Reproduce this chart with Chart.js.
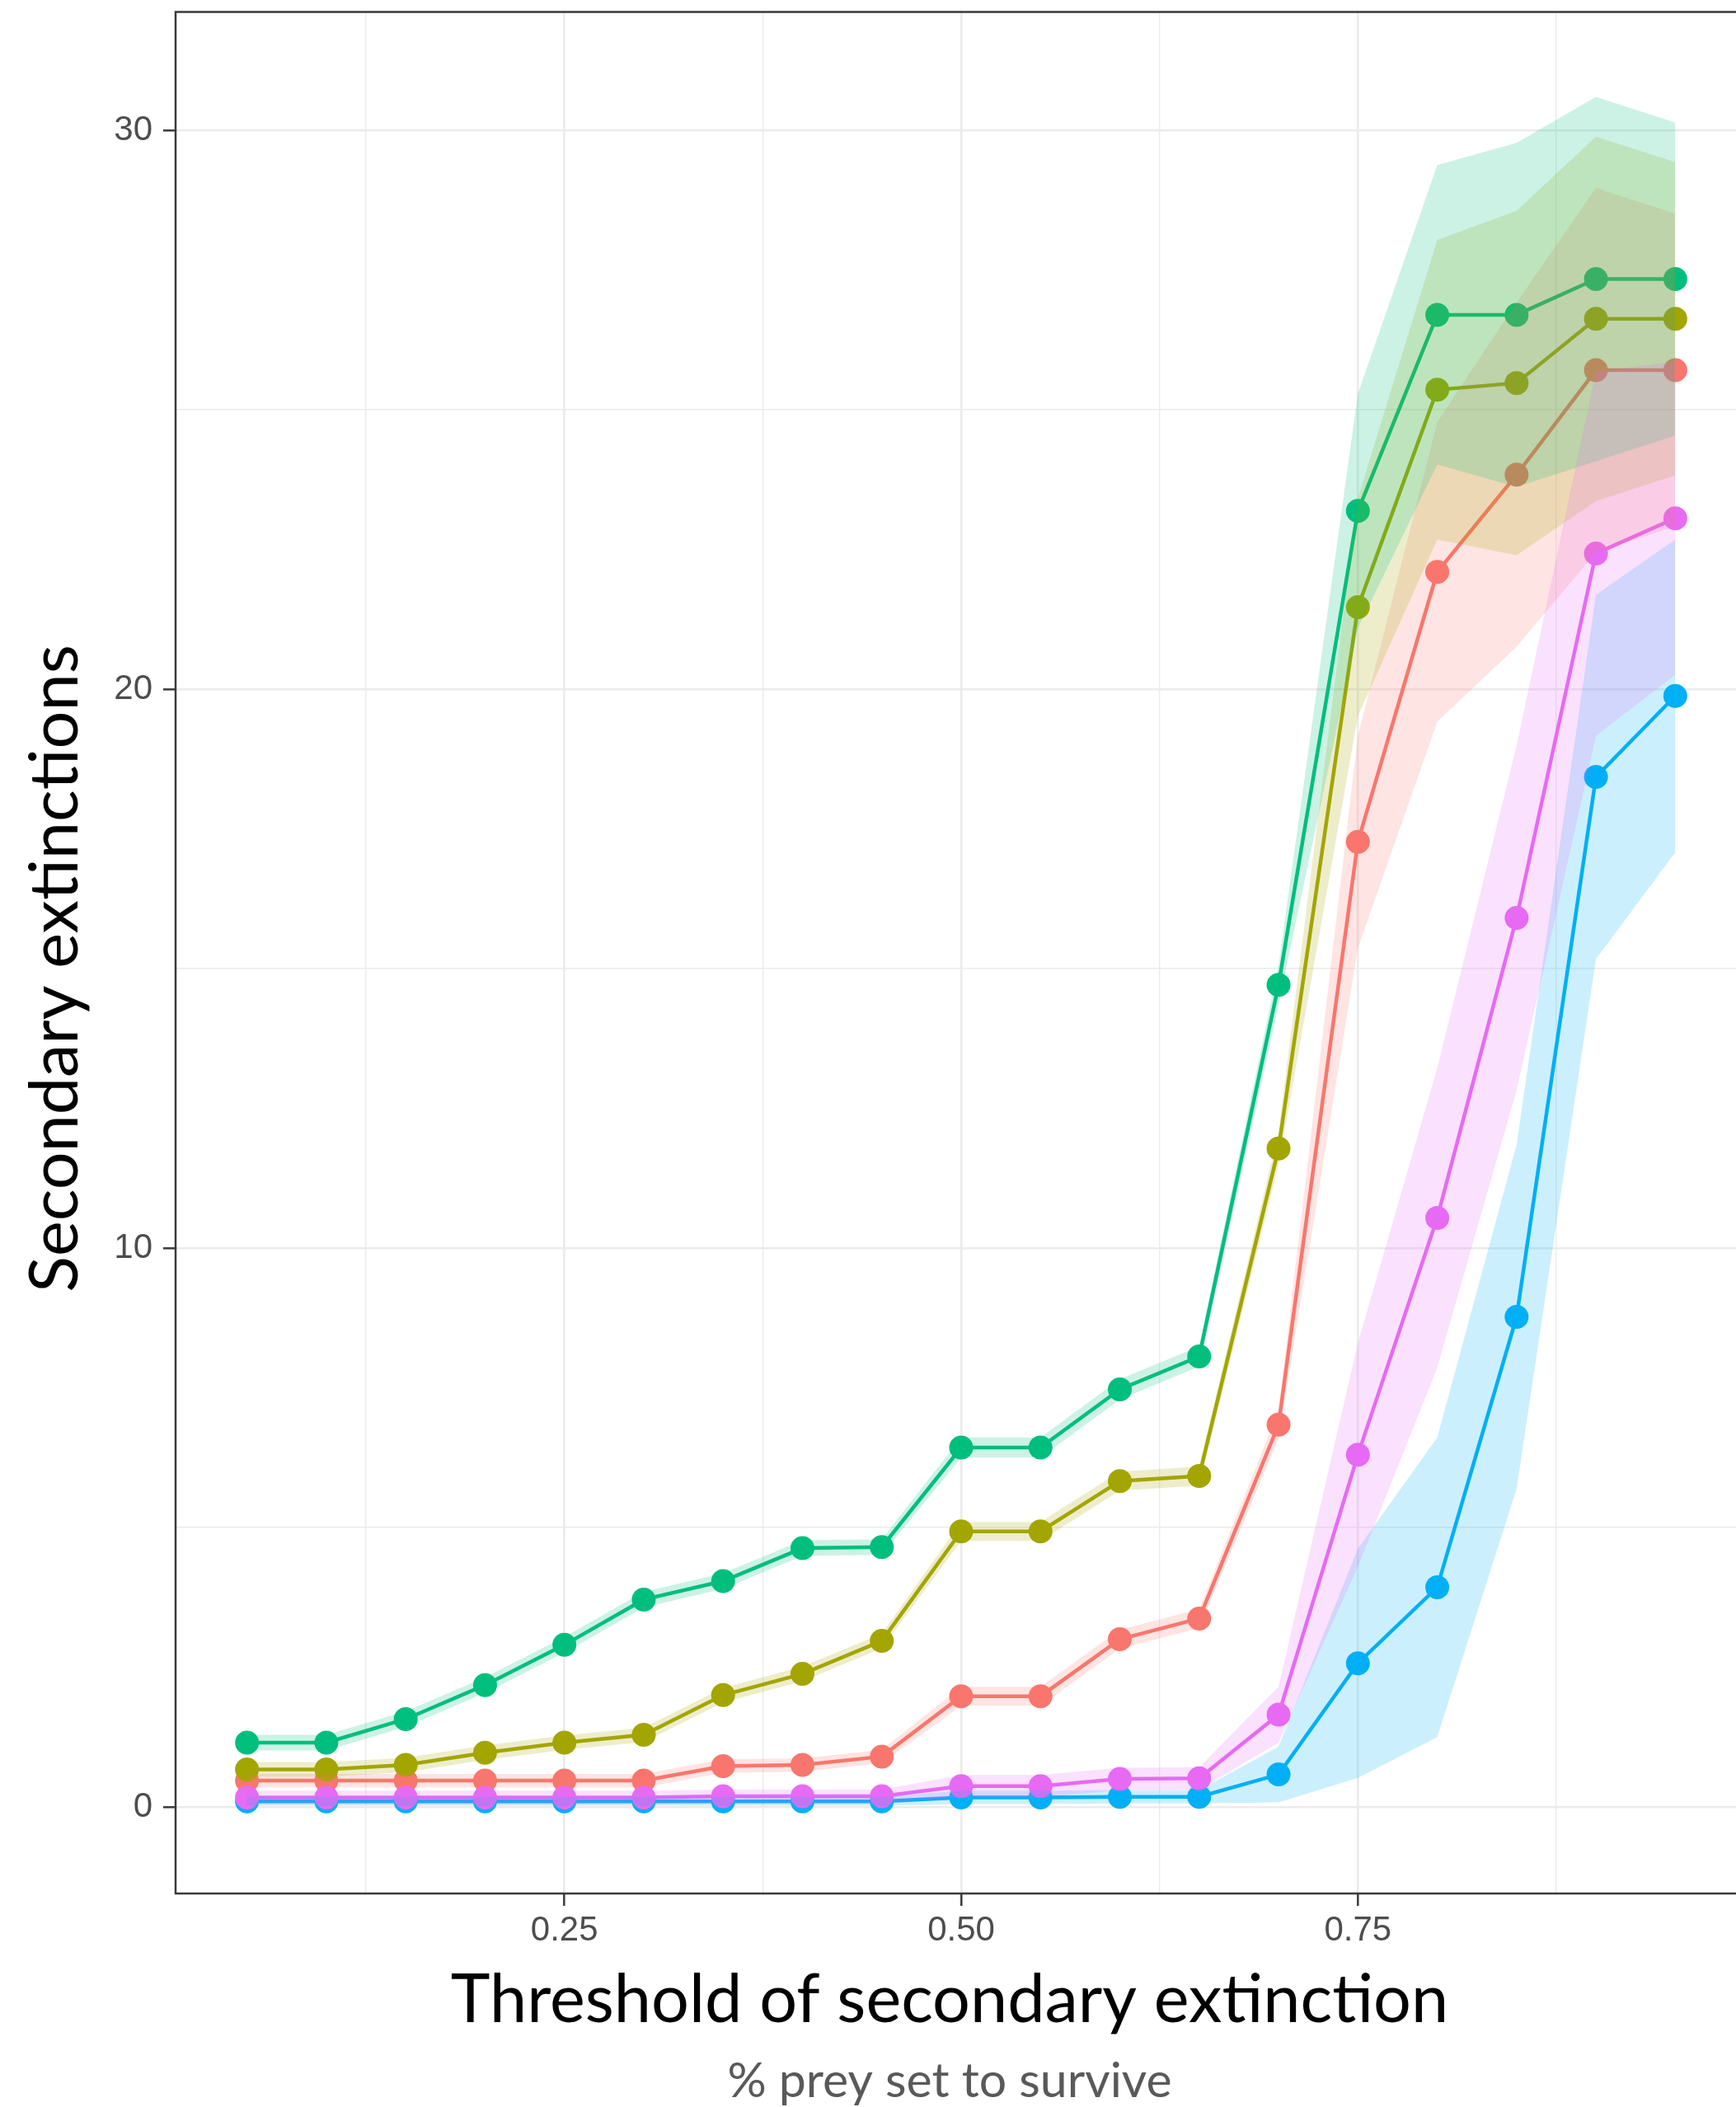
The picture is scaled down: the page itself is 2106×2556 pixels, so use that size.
<!DOCTYPE html>
<html>
<head>
<meta charset="utf-8">
<script src="https://cdn.jsdelivr.net/npm/chart.js@4.4.1/dist/chart.umd.min.js"></script>
<style>
  html, body { margin: 0; padding: 0; background: #ffffff; overflow: hidden; width: 2106px; height: 2556px; }
  canvas { display: block; }
</style>
</head>
<body>
<canvas id="chart" width="2140" height="2556"></canvas>
<script>
// Threshold of secondary extinction (x values)
const thresholds = [0.05, 0.10, 0.15, 0.20, 0.25, 0.30, 0.35, 0.40, 0.45, 0.50,
                    0.55, 0.60, 0.65, 0.70, 0.75, 0.80, 0.85, 0.90, 0.95];

// Mean secondary extinctions per group
const redMean   = [0.47, 0.47, 0.47, 0.47, 0.47, 0.47, 0.73, 0.75, 0.90, 1.98, 1.98, 3.00, 3.37, 6.84, 17.27, 22.10, 23.84, 25.71, 25.71];
const oliveMean = [0.67, 0.67, 0.75, 0.97, 1.15, 1.29, 2.00, 2.38, 2.97, 4.93, 4.93, 5.83, 5.92, 11.78, 21.47, 25.36, 25.48, 26.63, 26.63];
const greenMean = [1.15, 1.15, 1.57, 2.18, 2.90, 3.71, 4.04, 4.63, 4.65, 6.43, 6.43, 7.47, 8.06, 14.71, 23.19, 26.70, 26.70, 27.34, 27.34];
const blueMean  = [0.10, 0.10, 0.10, 0.10, 0.10, 0.10, 0.10, 0.10, 0.10, 0.17, 0.17, 0.18, 0.18, 0.58, 2.57, 3.93, 8.77, 18.43, 19.88];
const pinkMean  = [0.17, 0.17, 0.17, 0.17, 0.17, 0.17, 0.19, 0.19, 0.19, 0.37, 0.37, 0.50, 0.51, 1.65, 6.30, 10.54, 15.91, 22.43, 23.06];

// Confidence band limits per group
const redLow    = [0.35, 0.35, 0.35, 0.35, 0.35, 0.35, 0.61, 0.63, 0.78, 1.81, 1.81, 2.83, 3.20, 6.59, 15.37, 19.42, 20.76, 22.45, 22.91];
const redHigh   = [0.59, 0.59, 0.59, 0.59, 0.59, 0.59, 0.85, 0.87, 1.02, 2.15, 2.15, 3.17, 3.54, 7.09, 19.17, 24.78, 26.92, 28.97, 28.51];
const oliveLow  = [0.54, 0.54, 0.62, 0.84, 1.02, 1.16, 1.87, 2.25, 2.84, 4.76, 4.76, 5.66, 5.75, 11.48, 19.52, 22.68, 22.40, 23.37, 23.83];
const oliveHigh = [0.80, 0.80, 0.88, 1.10, 1.28, 1.42, 2.13, 2.51, 3.10, 5.10, 5.10, 6.00, 6.09, 12.08, 23.42, 28.04, 28.56, 29.89, 29.43];
const greenLow  = [1.01, 1.01, 1.43, 2.04, 2.76, 3.57, 3.90, 4.49, 4.51, 6.25, 6.25, 7.29, 7.88, 14.36, 21.09, 24.02, 23.62, 24.08, 24.54];
const greenHigh = [1.29, 1.29, 1.71, 2.32, 3.04, 3.85, 4.18, 4.77, 4.79, 6.61, 6.61, 7.65, 8.24, 15.06, 25.29, 29.38, 29.78, 30.60, 30.14];
const blueLow   = [0.02, 0.02, 0.02, 0.02, 0.02, 0.02, 0.02, 0.02, 0.02, 0.05, 0.05, 0.06, 0.06, 0.08, 0.52, 1.25, 5.69, 15.17, 17.08];
const blueHigh  = [0.18, 0.18, 0.18, 0.18, 0.18, 0.18, 0.18, 0.18, 0.18, 0.29, 0.29, 0.30, 0.30, 1.08, 4.62, 6.61, 11.85, 21.69, 22.68];
const pinkLow   = [0.05, 0.05, 0.05, 0.05, 0.05, 0.05, 0.07, 0.07, 0.07, 0.17, 0.17, 0.30, 0.31, 1.15, 4.30, 7.86, 12.83, 19.17, 20.26];
const pinkHigh  = [0.29, 0.29, 0.29, 0.29, 0.29, 0.29, 0.31, 0.31, 0.31, 0.57, 0.57, 0.70, 0.71, 2.15, 8.30, 13.22, 18.99, 25.69, 25.86];

// Axis ticks
const xMajorTicks = [0.25, 0.50, 0.75];
const xTickLabels = ['0.25', '0.50', '0.75'];
const xMinorTicks = [0.125, 0.375, 0.625, 0.875];
const yMajorTicks = [0, 10, 20, 30];
const yTickLabels = ['0', '10', '20', '30'];
const yMinorTicks = [5, 15, 25];

// Titles
const yTitle = 'Secondary extinctions';
const xTitle = 'Threshold of secondary extinction';
const xSubtitle = '% prey set to survive';

const groups = [
  { mean: redMean,   low: redLow,   high: redHigh,   color: '#F8766D', rgb: '248,118,109' },
  { mean: oliveMean, low: oliveLow, high: oliveHigh, color: '#A3A500', rgb: '163,165,0' },
  { mean: greenMean, low: greenLow, high: greenHigh, color: '#00BF7D', rgb: '0,191,125' },
  { mean: blueMean,  low: blueLow,  high: blueHigh,  color: '#00B0F6', rgb: '0,176,246' },
  { mean: pinkMean,  low: pinkLow,  high: pinkHigh,  color: '#E76BF3', rgb: '231,107,243' }
];

const toPoints = arr => thresholds.map((x, i) => ({ x: x, y: arr[i] }));

const datasets = [];
const n = groups.length;
// Lines with points (drawn underneath the bands)
groups.forEach((g, i) => {
  datasets.push({
    data: toPoints(g.mean),
    borderColor: g.color,
    backgroundColor: g.color,
    borderWidth: 4.5,
    pointRadius: 14.5,
    pointBorderWidth: 0,
    pointBackgroundColor: g.color,
    fill: false,
    tension: 0,
    order: 20 + (n - i)
  });
});
// Translucent bands drawn over the lines
groups.forEach((g, i) => {
  datasets.push({
    data: toPoints(g.high),
    borderColor: 'transparent',
    borderWidth: 0,
    pointRadius: 0,
    backgroundColor: 'rgba(' + g.rgb + ',0.2)',
    fill: '+1',
    tension: 0,
    order: n - i
  });
  datasets.push({
    data: toPoints(g.low),
    borderColor: 'transparent',
    borderWidth: 0,
    pointRadius: 0,
    backgroundColor: 'transparent',
    fill: false,
    tension: 0,
    order: n - i
  });
});

const isMajor = (list, v) => list.some(t => Math.abs(t - v) < 1e-9);

// Panel border and axis titles
const panelDecor = {
  id: 'panelDecor',
  afterDatasetsDraw(chart) {
    const { ctx, chartArea } = chart;
    ctx.save();
    ctx.strokeStyle = '#3a3a3a';
    ctx.lineWidth = 2.5;
    ctx.strokeRect(chartArea.left, chartArea.top, chartArea.right - chartArea.left, chartArea.bottom - chartArea.top);
    ctx.restore();
  },
  afterDraw(chart) {
    const ctx = chart.ctx;
    ctx.save();
    ctx.textAlign = 'center';
    ctx.textBaseline = 'alphabetic';
    ctx.fillStyle = '#000000';
    ctx.font = '81px Lato';
    ctx.fillText(xTitle, 1152, 2453);
    ctx.fillStyle = '#595959';
    ctx.font = '59px Lato';
    ctx.fillText(xSubtitle, 1152, 2544);
    ctx.translate(94, 1175);
    ctx.rotate(-Math.PI / 2);
    ctx.fillStyle = '#000000';
    ctx.font = '81px Lato';
    ctx.fillText(yTitle, 0, 0);
    ctx.restore();
  }
};

new Chart(document.getElementById('chart'), {
  type: 'line',
  data: { datasets: datasets },
  plugins: [panelDecor],
  options: {
    responsive: false,
    animation: false,
    devicePixelRatio: 1,
    layout: { padding: { top: 14, right: 21, left: 0, bottom: 0 } },
    plugins: { legend: { display: false }, tooltip: { enabled: false } },
    scales: {
      x: {
        type: 'linear',
        min: 0.005,
        max: 0.995,
        afterBuildTicks: scale => {
          scale.ticks = xMinorTicks.concat(xMajorTicks).sort((a, b) => a - b).map(v => ({ value: v }));
        },
        afterFit: scale => {
          scale.height = 259;
          scale.paddingLeft = 0;
          scale.paddingRight = 0;
        },
        border: { display: false },
        grid: {
          color: '#ebebeb',
          lineWidth: ctx => isMajor(xMajorTicks, ctx.tick.value) ? 2.6 : 1.4,
          tickColor: ctx => isMajor(xMajorTicks, ctx.tick.value) ? '#3a3a3a' : 'rgba(0,0,0,0)',
          tickWidth: 2.5,
          tickLength: 15
        },
        ticks: {
          autoSkip: false,
          maxRotation: 0,
          padding: 5,
          color: '#4d4d4d',
          font: { family: 'Liberation Sans', size: 42 },
          callback: v => {
            const k = xMajorTicks.findIndex(t => Math.abs(t - v) < 1e-9);
            return k >= 0 ? xTickLabels[k] : '';
          }
        }
      },
      y: {
        type: 'linear',
        min: -1.55,
        max: 32.12,
        afterBuildTicks: scale => {
          scale.ticks = yMinorTicks.concat(yMajorTicks).sort((a, b) => a - b).map(v => ({ value: v }));
        },
        afterFit: scale => {
          scale.width = 213;
          scale.paddingTop = 0;
          scale.paddingBottom = 0;
        },
        border: { display: false },
        grid: {
          color: '#ebebeb',
          lineWidth: ctx => isMajor(yMajorTicks, ctx.tick.value) ? 2.6 : 1.4,
          tickColor: ctx => isMajor(yMajorTicks, ctx.tick.value) ? '#3a3a3a' : 'rgba(0,0,0,0)',
          tickWidth: 2.5,
          tickLength: 15
        },
        ticks: {
          autoSkip: false,
          padding: 13,
          color: '#4d4d4d',
          font: { family: 'Liberation Sans', size: 42 },
          callback: v => {
            const k = yMajorTicks.findIndex(t => Math.abs(t - v) < 1e-9);
            return k >= 0 ? yTickLabels[k] : '';
          }
        }
      }
    }
  }
});
</script>
</body>
</html>
